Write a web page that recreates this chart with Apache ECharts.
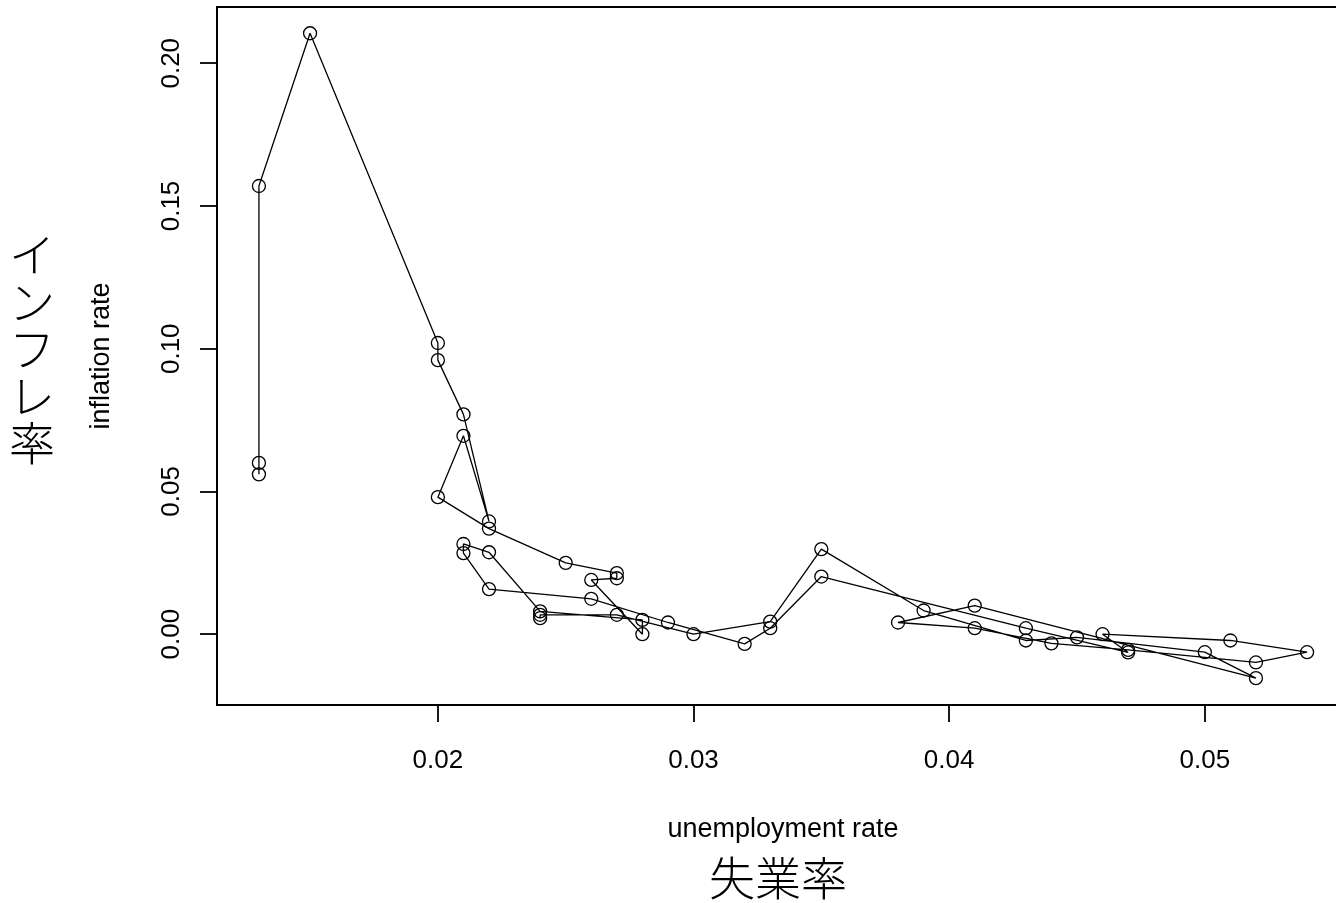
<!DOCTYPE html>
<html>
<head>
<meta charset="utf-8">
<script src="https://cdn.jsdelivr.net/npm/echarts@6/dist/echarts.min.js"></script>
<style>
  html, body { margin: 0; padding: 0; background: #fff; }
  #chart { width: 1336px; height: 903px; }
</style>
</head>
<body>
<div id="chart"></div>
<script>
// Annual unemployment rate and inflation rate, in time order (connected path)
const unemployment = [
  0.013, 0.013, 0.013, 0.015, 0.020, 0.020, 0.021, 0.022, 0.021, 0.020,
  0.022, 0.025, 0.027, 0.027, 0.026, 0.028, 0.028, 0.024, 0.022, 0.021,
  0.021, 0.022, 0.026, 0.029, 0.032, 0.033, 0.035, 0.043, 0.047, 0.046,
  0.051, 0.054, 0.052, 0.047, 0.044, 0.041, 0.038, 0.041, 0.052, 0.050,
  0.045, 0.043, 0.039, 0.035, 0.033, 0.030, 0.027, 0.024, 0.024
];
const inflation = [
  0.056, 0.060, 0.157, 0.2105, 0.102, 0.096, 0.077, 0.0395, 0.0695, 0.048,
  0.037, 0.025, 0.0214, 0.0196, 0.019, 0.000, 0.005, 0.008, 0.0287, 0.0316,
  0.0284, 0.0158, 0.0124, 0.0041, -0.0034, 0.0021, 0.0202, 0.0021, -0.0064, 0.000,
  -0.0022, -0.0063, -0.0099, -0.0055, -0.0032, 0.0021, 0.0041, 0.010, -0.0154, -0.0063,
  -0.0011, -0.0022, 0.0083, 0.0298, 0.0044, 0.000, 0.0068, 0.0068, 0.0056
];

// Axis tick positions
const xTicks = [0.02, 0.03, 0.04, 0.05];
const yTicks = [0.00, 0.05, 0.10, 0.15, 0.20];

// Axis titles
const xTitle = 'unemployment rate';
const xTitleJa = '失業率';
const yTitle = 'inflation rate';
const yTitleJa = 'インフレ率';

const points = unemployment.map((u, i) => [u, inflation[i]]);

const latin = "'Liberation Sans', Arial, sans-serif";
const cjk = "'Noto Sans CJK JP', sans-serif";

const chart = echarts.init(document.getElementById('chart'), null, { renderer: 'canvas' });

chart.setOption({
  animation: false,
  backgroundColor: '#ffffff',
  grid: {
    left: 217, top: 7, width: 1132, height: 698,
    containLabel: false,
    outerBoundsMode: 'none',
    show: true, borderColor: '#000', borderWidth: 2, backgroundColor: 'transparent'
  },
  xAxis: {
    type: 'value',
    min: 0.01136, max: 0.05564,
    splitLine: { show: false },
    axisLine: { show: true, onZero: false, lineStyle: { color: '#000', width: 2 } },
    axisTick: { show: true, length: 17, customValues: xTicks, lineStyle: { color: '#000', width: 1.8 } },
    axisLabel: {
      customValues: xTicks,
      formatter: v => v.toFixed(2),
      fontFamily: latin, fontSize: 26, color: '#000', margin: 43
    }
  },
  yAxis: {
    type: 'value',
    min: -0.0248, max: 0.2197,
    splitLine: { show: false },
    axisLine: { show: true, onZero: false, lineStyle: { color: '#000', width: 2 } },
    axisTick: { show: true, length: 17, customValues: yTicks, lineStyle: { color: '#000', width: 1.8 } },
    axisLabel: {
      customValues: yTicks,
      formatter: v => v.toFixed(2),
      rotate: 90,
      fontFamily: latin, fontSize: 26, color: '#000', margin: 32
    }
  },
  series: [{
    type: 'line',
    data: points,
    symbol: 'circle',
    symbolSize: 13,
    showAllSymbol: true,
    itemStyle: { color: 'transparent', borderColor: '#000', borderWidth: 1.3 },
    lineStyle: { color: '#000', width: 1.3 },
    emphasis: { disabled: true }
  }],
  graphic: [
    {
      type: 'text', x: 783, y: 830,
      style: { text: xTitle, fontFamily: latin, fontSize: 27, fill: '#000', align: 'center', verticalAlign: 'middle' }
    },
    {
      type: 'text', x: 778, y: 878,
      style: { text: xTitleJa, fontFamily: cjk, fontSize: 46, fontWeight: 300, fill: '#000', align: 'center', verticalAlign: 'middle' }
    },
    {
      type: 'text', x: 102, y: 356, rotation: Math.PI / 2,
      style: { text: yTitle, fontFamily: latin, fontSize: 27, fill: '#000', align: 'center', verticalAlign: 'middle' }
    },
    {
      type: 'text', x: 32, y: 349,
      style: {
        text: yTitleJa.split('').join('\n'), fontFamily: cjk, fontSize: 46, fontWeight: 300, lineHeight: 47,
        fill: '#000', align: 'center', verticalAlign: 'middle'
      }
    }
  ]
});
</script>
</body>
</html>
